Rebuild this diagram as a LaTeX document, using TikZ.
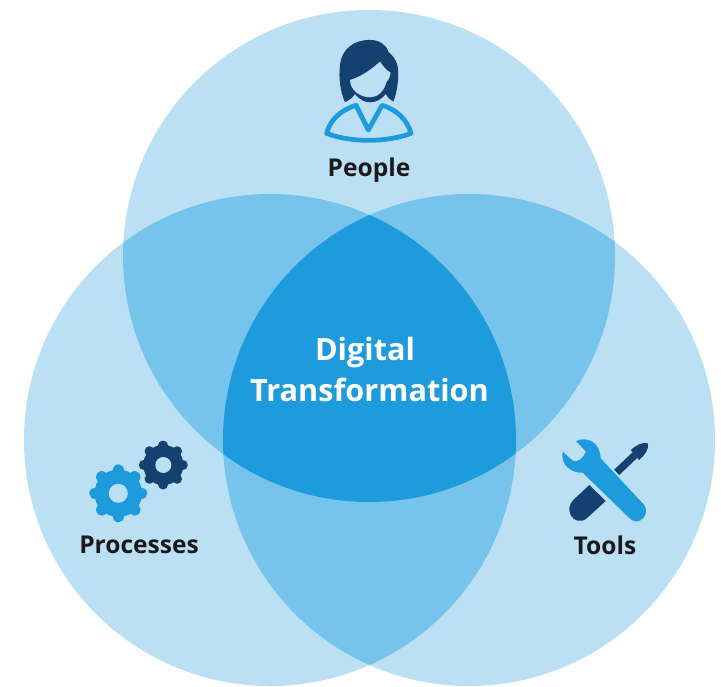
\documentclass[tikz,border=0pt]{standalone}
\usepackage{fontspec}
\setmainfont{Open Sans}
\definecolor{one}{HTML}{BBE0F4}
\definecolor{two}{HTML}{76C4EB}
\definecolor{three}{HTML}{1E9BDC}
\definecolor{navy}{HTML}{14416F}
\definecolor{ink}{HTML}{1A1A1A}
\tikzset{
  lbl/.style={font=\fontsize{18.4pt}{20pt}\selectfont\bfseries,text=ink,inner sep=0pt},
  big/.style={font=\fontsize{23pt}{27pt}\selectfont\bfseries,text=white,inner sep=0pt},
  cogtooth/.style={line cap=round,line join=round}
}
\def\Rr{184.5pt}
\newcommand{\CircA}{(369,256) circle[radius=\Rr]}
\newcommand{\CircB}{(270,440) circle[radius=\Rr]}
\newcommand{\CircC}{(469,440) circle[radius=\Rr]}
\newcommand{\cog}[5]{% x, y, outer radius px, hole radius px, colour
  \fill[#5] (#1,#2) circle[radius=#3*0.75*0.82pt];
  \foreach \a in {0,45,...,315}{
    \draw[#5,cogtooth,line width=#3*0.75*0.40pt]
      ($(#1,#2)+(\a:#3*0.75*0.7pt)$) -- ($(#1,#2)+(\a:#3*0.75*0.80pt)$);
  }
  \fill[one] (#1,#2) circle[radius=#4*0.75pt];
}
\usetikzlibrary{calc}
\begin{document}
\begin{tikzpicture}[x=0.75pt,y=-0.75pt]
\useasboundingbox (0,0) rectangle (721,686);
\fill[white] (0,0) rectangle (721,686);
\fill[one] \CircA;
\fill[one] \CircB;
\fill[one] \CircC;
\begin{scope}\clip \CircA; \fill[two] \CircB; \fill[two] \CircC; \end{scope}
\begin{scope}\clip \CircB; \fill[two] \CircC; \end{scope}
\begin{scope}\clip \CircA; \clip \CircB; \fill[three] \CircC; \end{scope}

% person
\begin{scope}[shift={(300,20)},x=0.25pt,y=-0.25pt]
  \fill[navy] (212,60) .. controls (165,58) and (125,85) .. (120,135)
     .. controls (115,175) and (122,220) .. (135,246)
     .. controls (150,240) and (158,232) .. (165,222)
     .. controls (180,240) and (195,247) .. (210,247)
     .. controls (228,247) and (245,238) .. (257,222)
     .. controls (262,232) and (270,240) .. (280,245)
     .. controls (292,215) and (298,170) .. (293,140)
     .. controls (288,115) and (275,105) .. (265,95)
     .. controls (258,72) and (235,60) .. (212,60) -- cycle;
  \fill[one] (150,180) .. controls (175,172) and (200,160) .. (240,125)
     .. controls (250,140) and (258,150) .. (272,158)
     .. controls (270,170) and (266,180) .. (260,185)
     .. controls (252,215) and (232,232) .. (210,232)
     .. controls (180,232) and (150,210) .. (150,180) -- cycle;
  \draw[three,line width=3.6pt,line join=round]
     (168,256) -- (205,330) -- (246,256)
     .. controls (290,268) and (322,300) .. (333,340)
     .. controls (260,368) and (150,368) .. (80,340)
     .. controls (90,300) and (122,270) .. (168,256) -- cycle;
\end{scope}
\node[lbl] (people) at (369,170) {People};

% gears
\cog{118.3}{493.3}{29}{9.5}{three}
\cog{163.3}{465}{24.5}{8}{navy}
\node[lbl] (processes) at (139,545) {Processes};

% tools
\begin{scope}[shift={(540,430)},x=0.25pt,y=-0.25pt]
  \draw[navy,line width=5.5pt] (230,127) -- (285,75);
  \fill[navy] (272,60) .. controls (290,45) and (305,36) .. (324,40)
     .. controls (328,58) and (312,78) .. (297,90) -- cycle;
  \fill[navy] (148,165) -- (197,213) -- (140,265)
     .. controls (122,280) and (100,272) .. (92,255)
     .. controls (84,238) and (88,222) .. (100,210) -- cycle;
  \fill[three] (108,33) .. controls (140,18) and (180,35) .. (182,85)
     -- (310,222) .. controls (325,240) and (318,262) .. (300,272)
     .. controls (288,278) and (275,272) .. (268,264)
     -- (128,128) .. controls (95,130) and (60,105) .. (68,65)
     -- (98,92) .. controls (110,100) and (130,85) .. (138,65) -- cycle;
\end{scope}
\node[lbl] (tools) at (605,545) {Tools};

\node[big] (digital) at (365,352.5) {Digital};
\node[big] (transformation) at (369.5,390) {Transformation};
\end{tikzpicture}
\end{document}
